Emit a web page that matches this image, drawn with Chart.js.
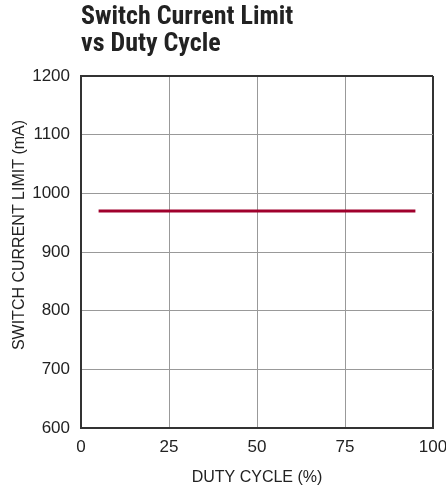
<!DOCTYPE html>
<html>
<head>
<meta charset="utf-8">
<script src="https://cdn.jsdelivr.net/npm/chart.js@4"></script>
<style>
  html, body { margin: 0; padding: 0; background: #fff; }
  #wrap { position: relative; width: 446px; height: 491px; }
  #title {
    position: absolute; left: 81px; top: 2px;
    font-family: "Liberation Sans Narrow", "Roboto Condensed", sans-serif;
    font-weight: bold; font-size: 26px; line-height: 27px; color: #222;
  }
</style>
</head>
<body>
<div id="wrap">
  <canvas id="chart" width="446" height="491"></canvas>
  <div id="title">Switch Current Limit<br>vs Duty Cycle</div>
</div>
<script>
const duty = [5, 95]
const current_limit = [970, 970]
const x_ticks = [0, 25, 50, 75, 100]
const y_ticks = [600, 700, 800, 900, 1000, 1100, 1200]
const y_title = 'SWITCH CURRENT LIMIT (mA)'

const font_family = '"Liberation Sans", Arial, sans-serif'

function edge_color(value, lo, hi) {
    return (value === lo || value === hi) ? '#333' : '#999'
}

// y axis title, sits a bit above the middle of the axis like the original
const y_title_plugin = {
    id: 'y_title',
    afterDraw(chart) {
        let c = chart.ctx
        c.save()
        c.translate(20, 235)
        c.rotate(-Math.PI / 2)
        c.font = '16px ' + font_family
        c.fillStyle = '#222'
        c.textAlign = 'center'
        c.textBaseline = 'middle'
        c.fillText(y_title, 0, 0)
        c.restore()
    }
}

let ctx = document.getElementById('chart')

let my_chart = new Chart(ctx, {
    type: 'line',
    data: {
        datasets: [{
            data: duty.map((d, i) => ({ x: d, y: current_limit[i] })),
            borderColor: '#a0002c',
            borderWidth: 3,
            pointRadius: 0,
            fill: false
        }]
    },
    plugins: [y_title_plugin],
    options: {
        responsive: false,
        animation: false,
        layout: { padding: { top: 76, right: 13, left: 0, bottom: 0 } },
        plugins: { legend: { display: false }, tooltip: { enabled: false } },
        scales: {
            x: {
                type: 'linear', min: 0, max: 100,
                afterBuildTicks: s => { s.ticks = x_ticks.map(v => ({ value: v })) },
                afterFit: s => { s.height = 63; s.paddingRight = 0; s.paddingLeft = 0 },
                grid: {
                    drawTicks: false,
                    color: c => edge_color(c.tick && c.tick.value, 0, 100),
                    lineWidth: c => (c.tick && (c.tick.value === 0 || c.tick.value === 100)) ? 2 : 1
                },
                border: { color: '#333', width: 2 },
                ticks: {
                    color: '#222', padding: 9, font: { family: font_family, size: 17 },
                    callback: v => String(v)
                },
                title: {
                    display: true, text: 'DUTY CYCLE (%)', color: '#222',
                    font: { family: font_family, size: 16 }, padding: { top: 6 }
                }
            },
            y: {
                type: 'linear', min: 600, max: 1200,
                afterBuildTicks: s => { s.ticks = y_ticks.map(v => ({ value: v })) },
                afterFit: s => { s.width = 81 },
                grid: {
                    drawTicks: false,
                    color: c => edge_color(c.tick && c.tick.value, 600, 1200),
                    lineWidth: c => (c.tick && (c.tick.value === 600 || c.tick.value === 1200)) ? 2 : 1
                },
                border: { color: '#333', width: 2 },
                ticks: {
                    color: '#222', padding: 11, font: { family: font_family, size: 17 },
                    callback: v => String(v)
                }
            }
        }
    }
})
</script>
</body>
</html>
